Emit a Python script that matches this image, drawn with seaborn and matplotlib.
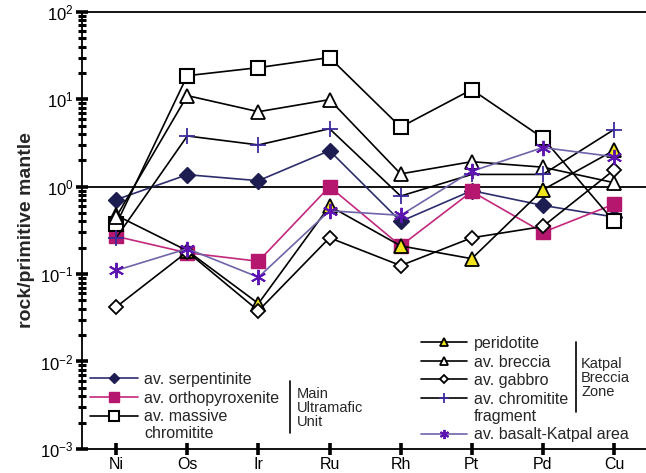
import numpy as np
import pandas as pd
import matplotlib
matplotlib.use("Agg")
import matplotlib.pyplot as plt
import seaborn as sns
from matplotlib.ticker import LogLocator, LogFormatterSciNotation, NullFormatter
from matplotlib.legend_handler import HandlerLine2D

# Platinum-group and chalcophile elements normalised to primitive mantle
elements = ["Ni", "Os", "Ir", "Ru", "Rh", "Pt", "Pd", "Cu"]

serpentinite = [0.71, 1.37, 1.17, 2.58, 0.40, 0.90, 0.61, 0.45]
orthopyroxenite = [0.27, 0.175, 0.14, 1.0, 0.21, 0.88, 0.30, 0.63]
massive_chromitite = [0.37, 18.6, 23.0, 30.0, 4.8, 12.9, 3.6, 0.40]

peridotite = [0.47, 0.185, 0.046, 0.60, 0.21, 0.15, 0.92, 2.6]
breccia = [0.45, 11.0, 7.2, 9.9, 1.4, 1.93, 1.67, 1.11]
gabbro = [0.042, 0.18, 0.038, 0.26, 0.125, 0.26, 0.35, 1.55]
chromitite_fragment = [0.26, 3.8, 3.0, 4.6, 0.78, 1.38, 1.38, 4.5]
basalt_katpal = [0.11, 0.195, 0.092, 0.53, 0.47, 1.5, 2.8, 2.2]

sns.set_style("ticks")
plt.rcParams["font.family"] = ["Liberation Sans", "DejaVu Sans"]
plt.rcParams["mathtext.fontset"] = "custom"
plt.rcParams["mathtext.rm"] = "Liberation Sans"
plt.rcParams["mathtext.it"] = "Liberation Sans"


class TopLineHandler(HandlerLine2D):
    """Line handle aligned with the first line of a two-line legend label."""

    def __init__(self, raise_by=7.0, **kw):
        super().__init__(**kw)
        self.raise_by = raise_by

    def create_artists(self, legend, orig_handle, xdescent, ydescent,
                       width, height, fontsize, trans):
        return super().create_artists(legend, orig_handle, xdescent,
                                      ydescent - 2 * self.raise_by,
                                      width, height, fontsize, trans)


fig = plt.figure(figsize=(6.46, 4.73), dpi=100)
ax = fig.add_axes([0.127, 0.051, 0.873, 0.924])

pos = np.arange(len(elements))

series = [
    # label, values, line colour, marker, face, edge, size, edge width
    ("av. serpentinite", serpentinite, "#2d2d6e", "D", "#1d1d52", "#1d1d52", 8, 1.0),
    ("av. orthopyroxenite", orthopyroxenite, "#c2287c", "s", "#b5176f", "#b5176f", 9.5, 1.0),
    ("av. massive\nchromitite", massive_chromitite, "black", "s", "white", "black", 10, 1.5),
    ("peridotite", peridotite, "black", "^", "#f2e41c", "black", 10, 1.3),
    ("av. breccia", breccia, "black", "^", "white", "black", 10, 1.3),
    ("av. gabbro", gabbro, "black", "D", "white", "black", 7.5, 1.3),
    ("av. chromitite\nfragment", chromitite_fragment, "black", "+", "#3a2c9e", "#3a2c9e", 11, 1.3),
    ("av. basalt-Katpal area", basalt_katpal, "#6f64a9", (6, 2, 0), "#5d14b0", "#5d14b0", 11, 1.4),
]

draw_order = [0, 1, 7, 5, 6, 4, 2, 3]
handles = {}
for i in draw_order:
    label, vals, lc, mk, fc, ec, ms, mew = series[i]
    df = pd.DataFrame({"pos": pos, "value": vals})
    sns.lineplot(data=df, x="pos", y="value", ax=ax, color=lc, lw=1.2,
                 marker=mk, markersize=ms, markerfacecolor=fc,
                 markeredgecolor=ec, markeredgewidth=mew, sort=False,
                 label=label, zorder=3 + i)
    handles[label] = ax.lines[-1]

ax.axhline(1.0, color="black", lw=1.3, zorder=2)

ax.set_yscale("log")
ax.set_ylim(1e-3, 1e2)
ax.set_xlim(-0.48, 7.45)
ax.set_xticks(pos)
ax.set_xticklabels(elements)
ax.yaxis.set_major_locator(LogLocator(base=10, numticks=10))
ax.yaxis.set_minor_locator(LogLocator(base=10, subs=np.arange(2, 10), numticks=50))
ax.yaxis.set_major_formatter(LogFormatterSciNotation())
ax.yaxis.set_minor_formatter(NullFormatter())

ax.set_xlabel("")
ax.set_ylabel("rock/primitive mantle", fontsize=14, fontweight="bold", labelpad=4)

for side in ["left", "bottom", "top"]:
    ax.spines[side].set_linewidth(1.3)
    ax.spines[side].set_color("black")
ax.spines["right"].set_visible(False)

ax.tick_params(axis="y", which="major", direction="inout", length=8, width=2.6,
               labelsize=12, colors="black", pad=2)
ax.tick_params(axis="y", which="minor", direction="inout", length=6, width=2.2, colors="black")
ax.tick_params(axis="x", which="major", direction="inout", length=8, width=2.6,
               labelsize=11.5, colors="black", pad=1.5)

if ax.get_legend() is not None:
    ax.get_legend().remove()

two_line = {handles[s[0]]: TopLineHandler(raise_by=7.0) for s in series if "\n" in s[0]}

# Legend for the Main Ultramafic Unit
left_labels = [s[0] for s in series[:3]]
leg1 = ax.legend([handles[l] for l in left_labels], left_labels,
                 loc="upper left", bbox_to_anchor=(90 / 646, 1 - 372 / 473),
                 bbox_transform=fig.transFigure, frameon=False, fontsize=11.5,
                 handlelength=3.0, handletextpad=0.4, labelspacing=0.22,
                 borderpad=0, borderaxespad=0, handler_map=two_line)
ax.add_artist(leg1)
for h in leg1.legend_handles:
    h.set_markersize(h.get_markersize() * 0.7)

# Legend for the Katpal Breccia Zone and basalt
right_labels = [s[0] for s in series[3:]]
leg2 = ax.legend([handles[l] for l in right_labels], right_labels,
                 loc="upper left", bbox_to_anchor=(421 / 646, 1 - 336 / 473),
                 bbox_transform=fig.transFigure, frameon=False, fontsize=11.5,
                 handlelength=2.9, handletextpad=0.4, labelspacing=0.22,
                 borderpad=0, borderaxespad=0, handler_map=two_line)
for h in leg2.legend_handles:
    h.set_markersize(h.get_markersize() * 0.6)

# Group brackets
fig.add_artist(plt.Line2D([290 / 646, 290 / 646], [1 - 381 / 473, 1 - 433 / 473],
                          color="black", lw=1.2))
fig.text(297 / 646, 1 - 387 / 473, "Main\nUltramafic\nUnit", fontsize=10.5,
         va="top", ha="left", linespacing=1.0)
fig.add_artist(plt.Line2D([576 / 646, 576 / 646], [1 - 342 / 473, 1 - 412 / 473],
                          color="black", lw=1.2))
fig.text(581 / 646, 1 - 357 / 473, "Katpal\nBreccia\nZone", fontsize=10.5,
         va="top", ha="left", linespacing=1.0)

fig.savefig("out.png", dpi=100)
